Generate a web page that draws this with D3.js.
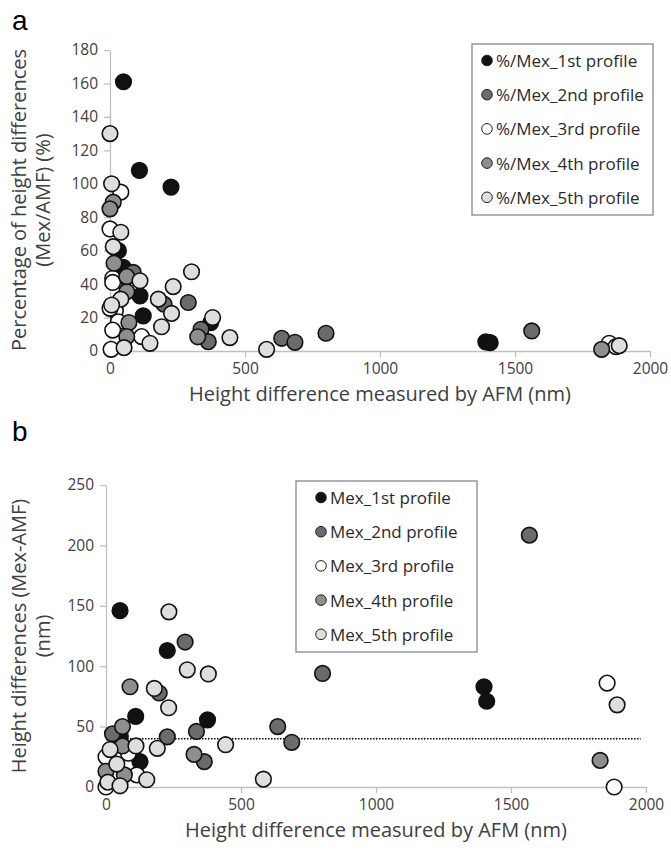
<!DOCTYPE html>
<html><head><meta charset="utf-8">
<script src="https://cdn.jsdelivr.net/npm/d3@7"></script>
<style>body{margin:0;background:#fff}svg{display:block}</style>
</head><body>
<svg id="c" width="671" height="854"></svg>
<script>
const seriesNamesA = ["%/Mex_1st profile","%/Mex_2nd profile","%/Mex_3rd profile","%/Mex_4th profile","%/Mex_5th profile"];
const seriesNamesB = ["Mex_1st profile","Mex_2nd profile","Mex_3rd profile","Mex_4th profile","Mex_5th profile"];
const fills = ["#111111","#6b6b6b","#ffffff","#8e8e8e","#dedede"];

// Panel a: [AFM height (nm), % difference]
const a1 = [[50,161],[109,108],[226,98],[31,60],[49,50],[111,33],[123,21],[373,17],[1392,5.5],[1408,5]];
const a2 = [[86,47],[59,44],[200,28],[290,29],[337,13],[364,5.6],[636,7.6],[685,5.2],[800,10.6],[1562,12]];
const a3 = [[40,95],[0,73],[10,43.5],[10,41],[20,24],[0,25.5],[31,17.5],[10,12.5],[117,8.6],[4,1],[1849,4.6],[1874,2.6]];
const a4 = [[12,89],[0,85],[15,52.5],[62,35.5],[62,44.5],[70,17],[62,8.6],[325,8.5],[1821,1]];
const a5 = [[0,130],[6,100],[40,71],[12,62.4],[111,42],[302,47.4],[234,38.5],[179,31],[40,31],[6,27.5],[228,22.5],[380,20],[191,14.5],[148,4.6],[52,2],[444,8],[580,1],[1886,3.2]];

// Panel b: [AFM height (nm), height difference (nm)]
const b1 = [[52,146],[227,113],[110,58.4],[376,55.6],[53,42],[126,21],[1400,83],[1410,71]];
const b2 = [[1568,208.5],[293,120],[802,94],[197,77.8],[636,50],[335,46],[24,44],[227,41.5],[688,37],[364,21]];
const b3 = [[0,25],[83,28],[114,10],[20,8],[0,0],[1856,86],[1882,0]];
const b4 = [[89,83],[61,50],[61,34],[326,27],[0,13],[68,10],[1830,22]];
const b5 = [[233,145],[301,97],[379,93.6],[179,81.6],[232,65.6],[443,35],[190,32],[111,34],[15,31],[40,19],[151,6],[7,4],[52,1],[583,6.5],[1893,68]];

const xTicks = [0,500,1000,1500,2000];
const yTicksA = [0,20,40,60,80,100,120,140,160,180];
const yTicksB = [0,50,100,150,200,250];
const refLineB = 40;

const svg = d3.select("#c");
const FONT = "'Open Sans', 'Liberation Sans', sans-serif";
const axisColor = "#bfbfbf", textColor = "#404040";

function panel(opt){
  const g = svg.append("g");
  const x = d3.scaleLinear().domain([0,2000]).range([opt.x0,opt.x1]);
  const y = d3.scaleLinear().domain([0,opt.ymax]).range([opt.y0,opt.y1]);
  const fmt = d3.format("d");
  const xa = g.append("g").attr("transform",`translate(0,${opt.y0})`)
    .call(d3.axisBottom(x).tickValues(xTicks).tickFormat(fmt).tickSize(6).tickPadding(6).tickSizeOuter(0));
  const ya = g.append("g").attr("transform",`translate(${opt.x0},0)`)
    .call(d3.axisLeft(y).tickValues(opt.yTicks).tickFormat(fmt).tickSize(6).tickPadding(6).tickSizeOuter(0));
  [xa,ya].forEach(a=>{
    a.selectAll("path,line").attr("stroke",axisColor).attr("stroke-width",1.3);
    a.selectAll("text").attr("fill",textColor).style("font-family",FONT).style("font-size","15.5px");
  });
  xa.select(".tick line").remove();
  if(opt.ref!==undefined){
    g.append("line").attr("x1",x(0)).attr("x2",x(1980)).attr("y1",y(opt.ref)).attr("y2",y(opt.ref))
      .attr("stroke","#000").attr("stroke-width",1.5).attr("stroke-dasharray","1.5,1.5");
  }
  opt.data.forEach((d,i)=>{
    g.append("g").selectAll("circle").data(d).join("circle")
      .attr("cx",p=>x(p[0])).attr("cy",p=>y(p[1])).attr("r",7.8)
      .attr("fill",fills[i]).attr("stroke","#111").attr("stroke-width",1.6);
  });
  g.append("text").attr("x",(opt.x0+opt.x1)/2+0).attr("y",opt.xTitleY).attr("text-anchor","middle")
    .attr("fill",textColor).style("font-family",FONT).style("font-size","20px").text("Height difference measured by AFM (nm)");
  opt.yTitle.forEach((t,k)=>{
    g.append("text").attr("transform",`translate(${21+k*24},${opt.yTitleC}) rotate(-90)`)
      .attr("text-anchor","middle").attr("dominant-baseline","middle")
      .attr("fill",textColor).style("font-family",FONT).style("font-size","20px").text(t);
  });
  const L = opt.legend;
  g.append("rect").attr("x",L.x).attr("y",L.y).attr("width",L.w).attr("height",L.h)
    .attr("fill","#fff").attr("stroke","#7f7f7f").attr("stroke-width",1.2);
  opt.names.forEach((n,i)=>{
    const cy = L.y+16.5+i*34.2;
    g.append("circle").attr("cx",L.mx).attr("cy",cy).attr("r",5.3)
      .attr("fill",fills[i]).attr("stroke","#222").attr("stroke-width",1);
    g.append("text").attr("x",L.mx+9).attr("y",cy).attr("dominant-baseline","central")
      .attr("fill","#2a2a2a").style("font-family",FONT).style("font-size","17px").text(n);
  });
  g.append("text").attr("x",12).attr("y",opt.labelY).attr("fill","#000")
    .style("font-family","'Liberation Sans', Arial, sans-serif").style("font-size","28px").text(opt.label);
}

panel({x0:110,x1:650,y0:351,y1:50,ymax:180,yTicks:yTicksA,data:[a1,a2,a3,a4,a5],
  xTitleY:401,yTitle:["Percentage of height differences","(Mex/AMF) (%)"],yTitleC:200,
  legend:{x:472,y:44,w:181,h:171,mx:487},names:seriesNamesA,label:"a",labelY:30});
panel({x0:106,x1:646,y0:787,y1:485,ymax:250,yTicks:yTicksB,data:[b1,b2,b3,b4,b5],ref:refLineB,
  xTitleY:837,yTitle:["Height differences (Mex-AMF)","(nm)"],yTitleC:636,
  legend:{x:296,y:481,w:181,h:171,mx:321},names:seriesNamesB,label:"b",labelY:441});
</script>
</body></html>
